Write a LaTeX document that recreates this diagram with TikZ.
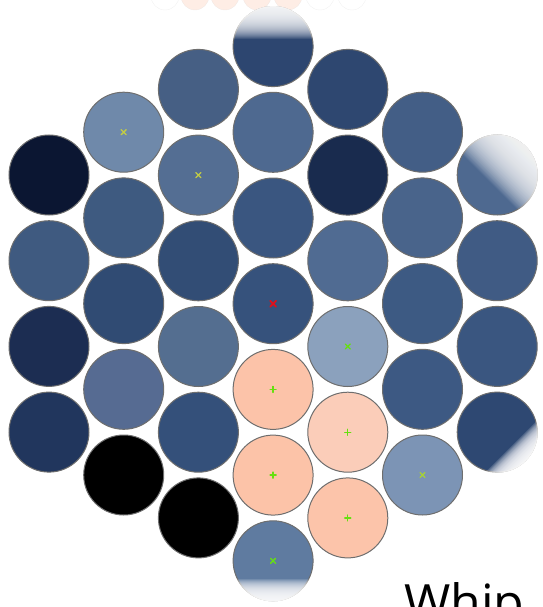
\documentclass[tikz,border=0pt]{standalone}
\usepackage{fontspec}
\newfontfamily\whipfont{Open Sans}

\definecolor{rim}{HTML}{6E6E6E}
\definecolor{peach}{HTML}{FCC3A9}
\definecolor{markgreen}{HTML}{66E010}
\definecolor{markolive}{HTML}{C2CC45}
\definecolor{markred}{HTML}{E0101A}

\tikzset{
    ball/.style={circle, draw=rim, line width=1pt, minimum size=80pt, inner sep=0pt},
    xmark/.style={line width=1.3pt, line cap=round},
    ghost/.style={opacity=0.3},
    wash/.style={white, opacity=#1},
}

\begin{document}
\begin{tikzpicture}[x=1pt,y=-1pt]
    \useasboundingbox (0,0) rectangle (542,607);
    \clip (0,0) rectangle (542,607);
    % faint row cut off at the top
    \foreach \x/\c in {165/white, 195/peach, 225/peach, 257/peach, 288/peach, 320/white, 352/white}
        \filldraw[ghost, fill=\c, draw=rim!30] (\x,-4) circle (14);
    % the pack, column by column
    \foreach \col/\row/\hex in {0/0/0B1632, 0/1/3F5A80, 0/2/1C2D52, 0/3/21365D,
            1/0/6F89AA, 1/1/3E5A80, 1/2/304B73, 1/3/566B92, 1/4/000000,
            2/0/465F84, 2/1/546E93, 2/2/324D75, 2/3/546E90, 2/4/34507A, 2/5/000000,
            3/0/2D4670, 3/1/4E6990, 3/2/3A5680, 3/3/36527C, 3/4/FCC3A9, 3/5/FCC3A8, 3/6/5F7BA0,
            4/0/2E4770, 4/1/192B4E, 4/2/506B92, 4/3/8BA1BD, 4/4/FBCDB9, 4/5/FCC4AA,
            5/0/435E86, 5/1/49648B, 5/2/3D5A83, 5/3/3D5983, 5/4/7C94B5,
            6/0/4E6990, 6/1/405B84, 6/2/3A5680, 6/3/2E4872}{
        \definecolor{cur}{HTML}{\hex}
        \node[ball, fill=cur] (b\col\row) at ({49+74.7*\col}, {175-42.8*(3-abs(\col-3))+85.7*\row}) {};
    }
    % washed out edges (stacked white strips)
    \foreach \ball/\ang/\w in {b30/180/32, b36/0/22, b60/135/50, b63/45/20}{
        \begin{scope}
            \clip (\ball.center) circle (40.5);
            \begin{scope}[shift={(\ball.center)}, rotate=\ang]
                \foreach \i in {0,...,\w}
                    \fill[wash={3/\w}] (-45,{40-\w+\i}) rectangle (45,45);
            \end{scope}
        \end{scope}
    }
    % crosses
    \foreach \n/\c in {b10/markolive, b21/markolive, b54/markolive!70!markgreen, b43/markgreen, b36/markgreen}
        \draw[xmark, \c] (\n.center) +(-2.5,-2.5) -- +(2.5,2.5) +(-2.5,2.5) -- +(2.5,-2.5);
    \foreach \n in {b34, b35, b44, b45}
        \draw[xmark, markgreen] (\n.center) +(-3,0) -- +(3,0) +(0,-3) -- +(0,3);
    \draw[xmark, markred, line width=1.7pt] (b33.center) +(-3,-3) -- +(3,3) +(-3,3) -- +(3,-3);
    % caption, cut off by the frame
    \node[anchor=base west, inner sep=0pt, font=\whipfont\fontsize{50}{50}\selectfont] (whip) at (404,620) {Whip};
\end{tikzpicture}
\end{document}
